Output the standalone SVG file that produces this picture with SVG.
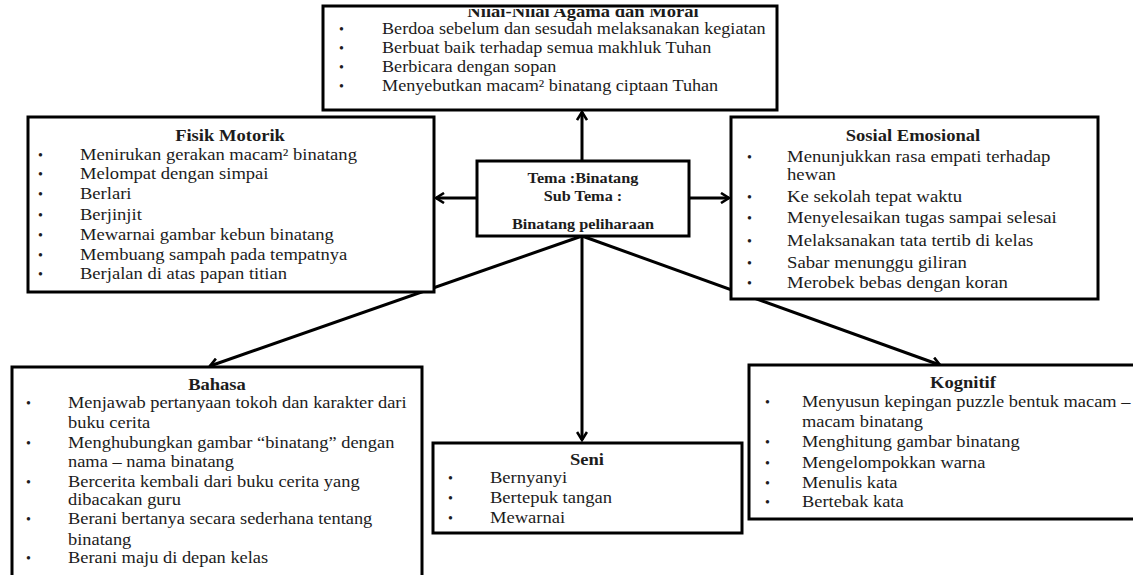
<svg xmlns="http://www.w3.org/2000/svg" width="1133" height="575" viewBox="0 0 1133 575">
<style>
.box{fill:#fff;stroke:#000;stroke-width:3}
.t{font-family:"Liberation Serif","Times New Roman",serif;font-size:16px;fill:#1c1c1c}
.b{font-family:"Liberation Serif","Times New Roman",serif;font-size:14px;fill:#1c1c1c}
.h{font-family:"Liberation Serif","Times New Roman",serif;font-size:16px;font-weight:bold;fill:#1c1c1c;text-anchor:middle}
.c{font-family:"Liberation Serif","Times New Roman",serif;font-size:14px;font-weight:bold;fill:#1c1c1c;text-anchor:middle}
.ln{fill:none;stroke:#000;stroke-width:3;marker-end:url(#ah)}
</style>
<defs>
<marker id="ah" viewBox="0 0 12 12" refX="10" refY="6" markerWidth="12" markerHeight="12" markerUnits="userSpaceOnUse" orient="auto">
<path d="M2,1 L10,6 L2,11" fill="none" stroke="#000" stroke-width="2.6"/>
</marker>
<clipPath id="clipTop"><rect x="200" y="9" width="600" height="100"/></clipPath>
</defs>
<rect width="1133" height="575" fill="#fff"/>

<g id="connectors">
<line class="ln" x1="582" y1="161" x2="582" y2="112"/>
<line class="ln" x1="477" y1="198" x2="436" y2="198"/>
<line class="ln" x1="689" y1="198" x2="729" y2="198"/>
<line class="ln" x1="582" y1="236" x2="582" y2="440"/>
<line class="ln" x1="582" y1="236" x2="210" y2="366"/>
<line class="ln" x1="582" y1="236" x2="940" y2="365"/>
</g>

<g id="agama">
<rect class="box" x="323" y="6" width="454" height="104"/>
<g transform="matrix(1.16 0 0 1 -93.28 0)"><text class="h" x="583" y="17" clip-path="url(#clipTop)">Nilai-Nilai Agama dan Moral</text></g>
<text class="b" x="339" y="34">•</text><text class="b" x="339" y="53">•</text><text class="b" x="339" y="72">•</text><text class="b" x="339" y="91">•</text>
<g transform="matrix(1.135 0 0 1 -51.57 0)">
<text class="t" x="382" y="34">Berdoa sebelum dan sesudah melaksanakan kegiatan</text>
<text class="t" x="382" y="53">Berbuat baik terhadap semua makhluk  Tuhan</text>
<text class="t" x="382" y="72">Berbicara dengan sopan</text>
<text class="t" x="382" y="91">Menyebutkan macam² binatang  ciptaan Tuhan</text>
</g>
</g>

<g id="fisik">
<rect class="box" x="28" y="117" width="406" height="175"/>
<g transform="matrix(1.16 0 0 1 -36.8 0)"><text class="h" x="230" y="141">Fisik Motorik</text></g>
<text class="b" x="38" y="160">•</text><text class="b" x="38" y="179">•</text><text class="b" x="38" y="199">•</text><text class="b" x="38" y="220">•</text><text class="b" x="38" y="240">•</text><text class="b" x="38" y="260">•</text><text class="b" x="38" y="279">•</text>
<g transform="matrix(1.16 0 0 1 -12.8 0)">
<text class="t" x="80" y="160">Menirukan  gerakan macam² binatang</text>
<text class="t" x="80" y="179">Melompat  dengan simpai</text>
<text class="t" x="80" y="199">Berlari</text>
<text class="t" x="80" y="220">Berjinjit</text>
<text class="t" x="80" y="240">Mewarnai gambar kebun  binatang</text>
<text class="t" x="80" y="260">Membuang  sampah pada tempatnya</text>
<text class="t" x="80" y="279">Berjalan di atas papan titian</text>
</g>
</g>

<g id="tema">
<rect class="box" x="477" y="161" width="212" height="75"/>
<g transform="matrix(1.16 0 0 1 -93.28 0)">
<text class="c" x="583" y="183">Tema  :Binatang</text>
<text class="c" x="583" y="201">Sub Tema  :</text>
<text class="c" x="583" y="229">Binatang  peliharaan</text>
</g>
</g>

<g id="sosial">
<rect class="box" x="731" y="117" width="367" height="182"/>
<g transform="matrix(1.16 0 0 1 -146.08 0)"><text class="h" x="913" y="141">Sosial Emosional</text></g>
<text class="b" x="747" y="162">•</text><text class="b" x="747" y="202">•</text><text class="b" x="747" y="223">•</text><text class="b" x="747" y="246">•</text><text class="b" x="747" y="268">•</text><text class="b" x="747" y="288">•</text>
<g transform="matrix(1.17 0 0 1 -133.79 0)">
<text class="t" x="787" y="162">Menunjukkan  rasa empati  terhadap</text>
<text class="t" x="787" y="180">hewan</text>
<text class="t" x="787" y="202">Ke sekolah  tepat waktu</text>
<text class="t" x="787" y="223">Menyelesaikan  tugas sampai  selesai</text>
<text class="t" x="787" y="246">Melaksanakan  tata tertib  di kelas</text>
<text class="t" x="787" y="268">Sabar menunggu  giliran</text>
<text class="t" x="787" y="288">Merobek  bebas dengan koran</text>
</g>
</g>

<g id="bahasa">
<rect class="box" x="12" y="367" width="410" height="220"/>
<g transform="matrix(1.16 0 0 1 -34.72 0)"><text class="h" x="217" y="390">Bahasa</text></g>
<text class="b" x="26" y="408">•</text><text class="b" x="26" y="448">•</text><text class="b" x="26" y="487">•</text><text class="b" x="26" y="524">•</text><text class="b" x="26" y="563">•</text>
<g transform="matrix(1.15 0 0 1 -10.2 0)">
<text class="t" x="68" y="408">Menjawab pertanyaan tokoh  dan karakter dari</text>
<text class="t" x="68" y="428">buku  cerita</text>
<text class="t" x="68" y="448">Menghubungkan  gambar “binatang” dengan</text>
<text class="t" x="68" y="467">nama – nama binatang</text>
<text class="t" x="68" y="487">Bercerita kembali  dari buku  cerita yang</text>
<text class="t" x="68" y="505">dibacakan guru</text>
<text class="t" x="68" y="524">Berani bertanya secara sederhana tentang</text>
<text class="t" x="68" y="545">binatang</text>
<text class="t" x="68" y="563">Berani maju  di  depan kelas</text>
</g>
</g>

<g id="seni">
<rect class="box" x="433" y="443" width="309" height="90"/>
<g transform="matrix(1.16 0 0 1 -93.92 0)"><text class="h" x="587" y="465">Seni</text></g>
<text class="b" x="448" y="483">•</text><text class="b" x="448" y="503">•</text><text class="b" x="448" y="523">•</text>
<g transform="matrix(1.16 0 0 1 -78.4 0)">
<text class="t" x="490" y="483">Bernyanyi</text>
<text class="t" x="490" y="503">Bertepuk tangan</text>
<text class="t" x="490" y="523">Mewarnai</text>
</g>
</g>

<g id="kognitif">
<rect class="box" x="749" y="365" width="400" height="154"/>
<g transform="matrix(1.16 0 0 1 -154.08 0)"><text class="h" x="963" y="388">Kognitif</text></g>
<text class="b" x="765" y="407">•</text><text class="b" x="765" y="447">•</text><text class="b" x="765" y="468">•</text><text class="b" x="765" y="488">•</text><text class="b" x="765" y="507">•</text>
<g transform="matrix(1.15 0 0 1 -120.3 0)">
<text class="t" x="802" y="407">Menyusun kepingan  puzzle  bentuk macam –</text>
<text class="t" x="802" y="427">macam binatang</text>
<text class="t" x="802" y="447">Menghitung  gambar binatang</text>
<text class="t" x="802" y="468">Mengelompokkan  warna</text>
<text class="t" x="802" y="488">Menulis  kata</text>
<text class="t" x="802" y="507">Bertebak kata</text>
</g>
</g>
</svg>
